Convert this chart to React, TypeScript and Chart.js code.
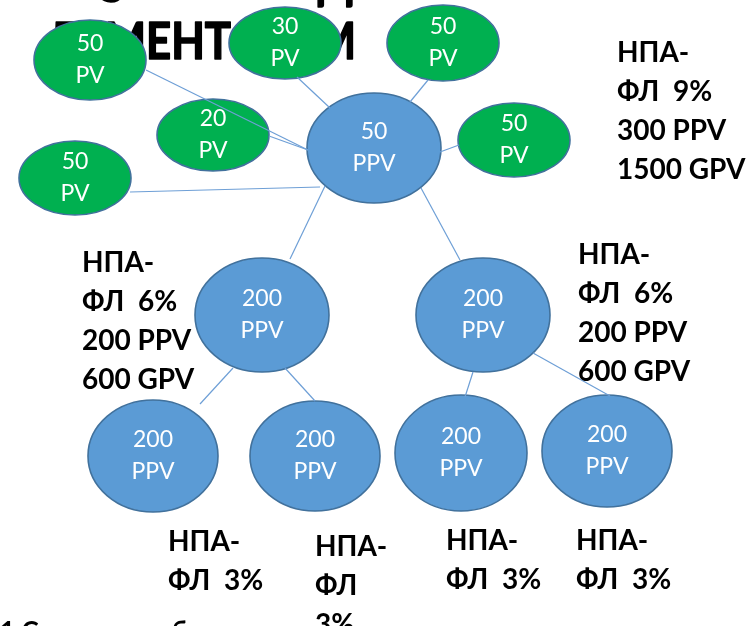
import React, { useEffect, useRef } from "react";
import { Chart, registerables } from "chart.js";

Chart.register(...registerables);

// ---- Node data (centre, half-width, half-height, value, unit, kind) ----
const NODE_X = [90, 285, 443, 213, 514, 75, 374, 262, 483, 153, 315, 461, 607];
const NODE_Y = [60, 43, 43, 135, 140, 178, 148, 315, 315, 456, 456, 453, 451];
const NODE_RX = [56, 56, 56, 56, 56, 56, 67, 67, 67, 65, 65, 66, 65];
const NODE_RY = [40, 36, 38, 36, 37, 37, 55, 57, 57, 56, 55, 58, 56];
const NODE_VALUE = ["50", "30", "50", "20", "50", "50", "50", "200", "200", "200", "200", "200", "200"];
const NODE_UNIT = ["PV", "PV", "PV", "PV", "PV", "PV", "PPV", "PPV", "PPV", "PPV", "PPV", "PPV", "PPV"];
const NODE_KIND = ["pv", "pv", "pv", "pv", "pv", "pv", "ppv", "ppv", "ppv", "ppv", "ppv", "ppv", "ppv"];

// ---- Connector lines ----
const EDGE_X1 = [146, 269, 130, 297, 428, 459, 325, 421, 233, 285, 473, 533];
const EDGE_Y1 = [70, 136, 192, 77, 80, 145, 186, 188, 368, 368, 372, 353];
const EDGE_X2 = [308, 308, 320, 330, 410, 440, 290, 460, 200, 315, 465, 610];
const EDGE_Y2 = [150, 150, 187, 108, 102, 152, 259, 260, 404, 401, 397, 396];

// ---- Text labels ----
const LABEL_X = [617, 82, 578, 168, 315, 446, 576];
const LABEL_Y = [62, 272, 264, 551, 556, 550, 550];
const LABEL_LINES = [
  ["НПА-", "ФЛ  9%", "300 PPV", "1500 GPV"],
  ["НПА-", "ФЛ  6%", "200 PPV", "600 GPV"],
  ["НПА-", "ФЛ  6%", "200 PPV", "600 GPV"],
  ["НПА-", "ФЛ  3%"],
  ["НПА-", "ФЛ", "3%"],
  ["НПА-", "ФЛ  3%"],
  ["НПА-", "ФЛ  3%"],
];

// background title fragments (text, right edge, baseline)
const TITLE_PARTS = ["ЛЕМЕНТ", "ОМ", "С", "ОД"];
const TITLE_RIGHT = [231, 356, 123, 353];
const TITLE_BASE = [59, 59, 2, -2];

const FONT = "Lato, 'Noto Sans', sans-serif";

const diagramPlugin = {
  id: "diagram",
  beforeDatasetsDraw(chart: any) {
    const { ctx, scales } = chart;
    const sx = scales.x;
    const sy = scales.y;
    ctx.save();
    ctx.fillStyle = "#000";
    ctx.strokeStyle = "#000";
    ctx.lineJoin = "round";
    ctx.textAlign = "left";
    ctx.textBaseline = "alphabetic";
    ctx.font = `bold 52px ${FONT}`;
    TITLE_PARTS.forEach((t, i) => {
      const k = 0.84;
      const w = ctx.measureText(t).width * k;
      ctx.save();
      ctx.translate(sx.getPixelForValue(TITLE_RIGHT[i]) - w, sy.getPixelForValue(TITLE_BASE[i]));
      ctx.scale(k, 1);
      ctx.lineWidth = 1.6;
      ctx.fillText(t, 0, 0);
      ctx.strokeText(t, 0, 0);
      ctx.restore();
    });
    // fragments of cut line below
    ctx.font = `bold 26px ${FONT}`;
    ctx.fillText("1 С", sx.getPixelForValue(0), sy.getPixelForValue(640));
    ctx.fillText("б", sx.getPixelForValue(172), sy.getPixelForValue(640));

    // ellipses
    NODE_X.forEach((cx, i) => {
      const px = sx.getPixelForValue(cx);
      const py = sy.getPixelForValue(NODE_Y[i]);
      const rx = Math.abs(sx.getPixelForValue(cx + NODE_RX[i]) - px);
      const ry = Math.abs(sy.getPixelForValue(NODE_Y[i] + NODE_RY[i]) - py);
      ctx.beginPath();
      ctx.ellipse(px, py, rx, ry, 0, 0, Math.PI * 2);
      ctx.fillStyle = NODE_KIND[i] === "pv" ? "#00b050" : "#5b9bd5";
      ctx.fill();
      ctx.lineWidth = 1.6;
      ctx.strokeStyle = "#41719c";
      ctx.stroke();
      ctx.fillStyle = "#ffffff";
      ctx.font = `23px ${FONT}`;
      ctx.textAlign = "center";
      ctx.textBaseline = "middle";
      ctx.fillText(NODE_VALUE[i], px, py - 16);
      ctx.fillText(NODE_UNIT[i], px, py + 16);
    });
    ctx.restore();
  },
  afterDatasetsDraw(chart: any) {
    const { ctx, scales } = chart;
    const sx = scales.x;
    const sy = scales.y;
    ctx.save();
    ctx.fillStyle = "#000";
    ctx.font = `bold 28px ${FONT}`;
    ctx.textAlign = "left";
    ctx.textBaseline = "alphabetic";
    LABEL_LINES.forEach((lines, i) => {
      lines.forEach((t, j) => {
        ctx.fillText(t, sx.getPixelForValue(LABEL_X[i]), sy.getPixelForValue(LABEL_Y[i] + j * 39));
      });
    });
    ctx.restore();
  },
};

export default function App() {
  const ref = useRef<HTMLCanvasElement | null>(null);
  useEffect(() => {
    document.body.style.margin = "0";
    const canvas = ref.current;
    if (!canvas) return;
    const datasets = EDGE_X1.map((x1, i) => ({
      data: [
        { x: x1, y: EDGE_Y1[i] },
        { x: EDGE_X2[i], y: EDGE_Y2[i] },
      ],
      showLine: true,
      borderColor: "#6e9fd6",
      borderWidth: 1.2,
      pointRadius: 0,
      fill: false,
    }));
    const chart = new Chart(canvas, {
      type: "scatter",
      data: { datasets },
      options: {
        animation: false,
        responsive: false,
        devicePixelRatio: 1,
        layout: { padding: 0 },
        plugins: { legend: { display: false }, tooltip: { enabled: false } },
        events: [],
        scales: {
          x: { type: "linear", min: 0, max: 748, display: false },
          y: { type: "linear", min: 0, max: 626, reverse: true, display: false },
        },
      },
      plugins: [diagramPlugin],
    });
    return () => chart.destroy();
  }, []);
  return (
    <div style={{ width: 748, height: 626, background: "#fff" }}>
      <canvas ref={ref} width={748} height={626} style={{ display: "block" }} />
    </div>
  );
}
